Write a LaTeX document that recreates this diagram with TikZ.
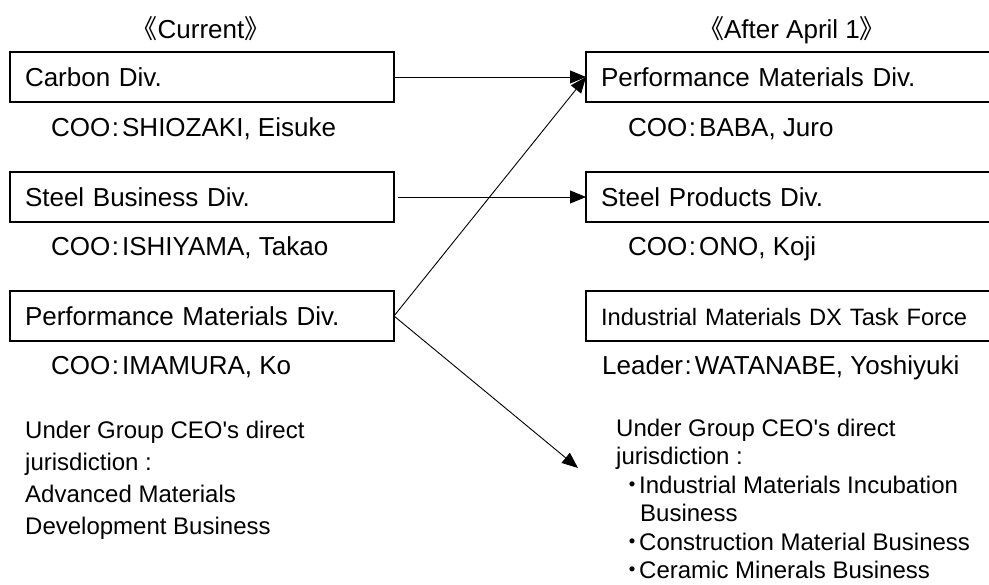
\documentclass[tikz,border=0pt]{standalone}
\usepackage{fontspec}
\setmainfont{Liberation Sans}
\newfontfamily\cjk{Noto Sans CJK JP}
\usetikzlibrary{arrows.meta}
\newcommand{\coo}[2]{#1\kern1.5pt:\kern3pt#2}
\newcommand{\jdot}{\makebox[13pt][c]{\makebox[0pt][c]{\cjk ・}}}

\begin{document}
\begin{tikzpicture}[x=1pt,y=-1pt,
    divbox/.style={draw,line width=1.8pt,anchor=north west,outer sep=0pt,
        minimum height=50pt,inner xsep=15pt,inner ysep=0pt,
        text height=19pt,text depth=0pt,align=left,font=\fontsize{26}{30}\selectfont},
    lbl/.style={anchor=base west,inner sep=0pt,font=\fontsize{26}{30}\selectfont},
    note/.style={anchor=north west,inner sep=0pt,align=left},
    link/.style={line width=0.9pt,-{Triangle[length=16pt,width=13pt]}}]
            \useasboundingbox (0,0) rectangle (989,585);

            % headings
            \node[lbl,anchor=base] (now) at (201,39) {{\cjk 《}Current{\cjk 》}};
            \node[lbl,anchor=base] (after) at (792,39) {{\cjk 《}After April 1{\cjk 》}};

            % current divisions
            \node[divbox,text width=354pt] (carbon) at (10,52) {Carbon Div.};
            \node[divbox,text width=354pt] (steelbiz) at (10,172) {Steel Business Div.};
            \node[divbox,text width=354pt] (perfmat) at (10,291) {Performance Materials Div.};
            \node[lbl] (cooa) at (51,137) {\coo{COO}{SHIOZAKI, Eisuke}};
            \node[lbl] (coob) at (51,256) {\coo{COO}{ISHIYAMA, Takao}};
            \node[lbl] (cooc) at (51,375) {\coo{COO}{IMAMURA, Ko}};

            % divisions after april 1
            \node[divbox,text width=380pt] (newperf) at (586,52) {Performance Materials Div.};
            \node[divbox,text width=380pt] (steelprod) at (586,172) {Steel Products Div.};
            \node[divbox,text width=380pt,font=\fontsize{23.7}{28}\selectfont] (dxtf) at (586,291) {Industrial Materials DX Task Force};
            \node[lbl] (cood) at (628,137) {\coo{COO}{BABA, Juro}};
            \node[lbl] (cooe) at (628,256) {\coo{COO}{ONO, Koji}};
            \node[lbl] (lead) at (602,375) {\coo{Leader}{WATANABE, Yoshiyuki}};

            % ceo jurisdiction
            \node[note,font=\fontsize{24}{32}\selectfont] (ceoold) at (25,420.5)
                {Under Group CEO\textquotesingle s direct\\ jurisdiction :\\ Advanced Materials\\ Development Business};
            \node[note,font=\fontsize{24}{28.5}\selectfont] (ceonew) at (616,418.5)
                {Under Group CEO\textquotesingle s direct\\ jurisdiction :\\
                 \hspace*{10pt}\jdot Industrial Materials Incubation\\
                 \hspace*{24pt}Business\\
                 \hspace*{10pt}\jdot Construction Material Business\\
                 \hspace*{10pt}\jdot Ceramic Minerals Business};

            % arrows
            \coordinate (ceo) at (578,468);
            \draw[link] (carbon.east) -- (newperf.west);
            \draw[link,shorten <=4pt] (steelbiz.east) -- (steelprod.west);
            \draw[link] (perfmat.east) -- (newperf.west);
            \draw[link] (perfmat.east) -- (ceo);

        \end{tikzpicture}
\end{document}
